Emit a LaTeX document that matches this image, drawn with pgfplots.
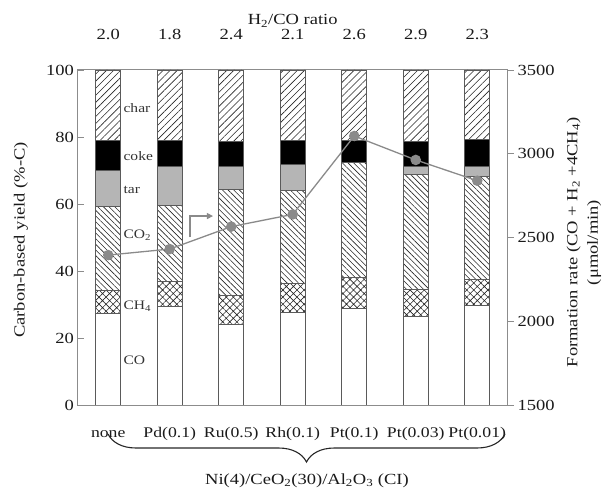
\documentclass[border=0pt]{standalone}
\usepackage{pgfplots}
\pgfplotsset{compat=1.18}
\usepackage{pgfplotstable}
\usepackage{fontspec}
\setmainfont{Liberation Serif}[FakeStretch=1.2]
\usetikzlibrary{patterns.meta,decorations.pathreplacing,arrows.meta}

\definecolor{axgray}{HTML}{8C8C8C}
\definecolor{bargray}{HTML}{5A5A5A}
\definecolor{targray}{HTML}{B5B5B5}
\definecolor{linegray}{HTML}{8A8A8A}
\definecolor{txt}{HTML}{1A1A1A}

\pgfplotstableread{
x CO CH4 CO2 tar coke char
0 27.2 7.1 24.9 10.9 9.0 20.9
1 29.3 7.5 22.7 11.6 8.0 20.9
2 24.2 8.6 31.6 6.7 7.5 21.4
3 27.7 8.6 27.7 7.8 7.3 20.9
4 28.7 9.3 34.3 0.0 6.8 20.9
5 26.4 8.1 34.3 2.5 7.3 21.4
6 29.6 8.0 30.6 3.1 8.1 20.6
}\yields

\pgfplotstableread{
x rate
0 2395
1 2431
2 2565
3 2638
4 3106
5 2963
6 2839
}\rates

\newcommand{\lf}{\fontsize{15.5}{18.6}\selectfont}
\newcommand{\cf}{\fontsize{14.8}{17.8}\selectfont}
\newcommand{\smf}{\fontsize{13}{15.6}\selectfont}
\tikzset{inlab/.style={anchor=west, font=\smf, text=black!80, inner sep=1bp}}

\begin{document}
\begin{tikzpicture}
\begin{axis}[name=a1, at={(0,0)}, anchor=south west,
  scale only axis, width=430.5bp, height=335bp,
  xmin=-0.5, xmax=6.5, ymin=0, ymax=100,
  ybar stacked, bar width=0.41,
  xtick={0,...,6},
  xticklabels={none,Pd(0.1),Ru(0.5),Rh(0.1),Pt(0.1),Pt(0.03),Pt(0.01)},
  x tick style={draw=none},
  xticklabel style={anchor=base, yshift=-32bp, font=\cf, text=txt, inner sep=1bp},
  ytick={0,20,...,100}, ytick pos=left, tick align=inside,
  major tick length=6bp,
  y tick style={axgray, line width=0.8bp},
  yticklabel style={font=\lf, text=txt},
  axis line style={axgray, line width=1bp},
  /pgf/number format/assume math mode=true,
  every axis plot/.append style={draw=bargray, line width=0.8bp},
]
\addplot[fill=white] table[x=x,y=CO]{\yields};
\addplot[pattern={Hatch[angle=45,distance=5bp,line width=0.6bp]}, pattern color=black!85] table[x=x,y=CH4]{\yields};
\addplot[pattern={Lines[angle=-45,distance=4bp,line width=0.6bp]}, pattern color=black!85] table[x=x,y=CO2]{\yields};
\addplot[fill=targray] table[x=x,y=tar]{\yields};
\addplot[fill=black] table[x=x,y=coke]{\yields};
\addplot[pattern={Lines[angle=45,distance=5bp,line width=0.6bp]}, pattern color=black!85] table[x=x,y=char]{\yields};

\node[inlab] at (axis cs:0.23,88.7) {char};
\node[inlab] at (axis cs:0.23,74.3) {coke};
\node[inlab] at (axis cs:0.23,64.2) {tar};
\node[inlab] at (axis cs:0.23,50.7) {CO\textsubscript{2}};
\node[inlab] at (axis cs:0.23,29.6) {CH\textsubscript{4}};
\node[inlab] at (axis cs:0.23,13.4) {CO};

\draw[linegray, line width=1.2bp, -{Triangle[length=6bp,width=6bp]}]
  (axis cs:1.329,50.1) |- (axis cs:1.703,56.4);
\end{axis}

\begin{axis}[at={(0,0)}, anchor=south west,
  scale only axis, width=430.5bp, height=335bp,
  xmin=-0.5, xmax=6.5, ymin=1500, ymax=3500,
  axis line style={draw=none},
  xtick={0,...,6}, xticklabels={2.0,1.8,2.4,2.1,2.6,2.9,2.3},
  xtick pos=right, xticklabel pos=right,
  x tick style={draw=none},
  xticklabel style={anchor=base, yshift=24bp, font=\lf, text=txt, inner sep=1bp},
  ytick={1500,2000,...,3500}, ytick pos=right, yticklabel pos=right,
  tick align=outside, major tick length=6bp,
  y tick style={axgray, line width=0.8bp},
  yticklabel style={font=\lf, text=txt},
  /pgf/number format/assume math mode=true,
  /pgf/number format/1000 sep={},
]
\addplot[linegray, line width=1.3bp, mark=*, mark size=4.6bp,
  mark options={fill=linegray, draw=linegray}] table[x=x,y=rate]{\rates};
\end{axis}

\node[anchor=base, font=\lf, text=txt, inner sep=1bp] at ([yshift=45bp]a1.north) {H\textsubscript{2}/CO ratio};
\node[rotate=90, font=\lf, text=txt] at ([xshift=-56.5bp,yshift=-2.5bp]a1.west) {Carbon-based yield (\%-C)};
\node[rotate=90, align=center, font=\lf, text=txt] at ([xshift=76bp,yshift=-5bp]a1.east)
  {Formation rate (CO + H\textsubscript{2} +4CH\textsubscript{4})\\[2bp](μmol/min)};

\draw[decorate, decoration={brace, mirror, amplitude=28bp}, line width=1.1bp, black!85]
  (30.5bp,-29bp) -- (427.5bp,-29bp);
\node[anchor=base, font=\lf, text=txt] at (229.5bp,-79bp)
  {Ni(4)/CeO\textsubscript{2}(30)/Al\textsubscript{2}O\textsubscript{3} (CI)};

\pgfresetboundingbox
\path (-77.5bp,-83bp) rectangle (534.5bp,405bp);
\end{tikzpicture}
\end{document}
